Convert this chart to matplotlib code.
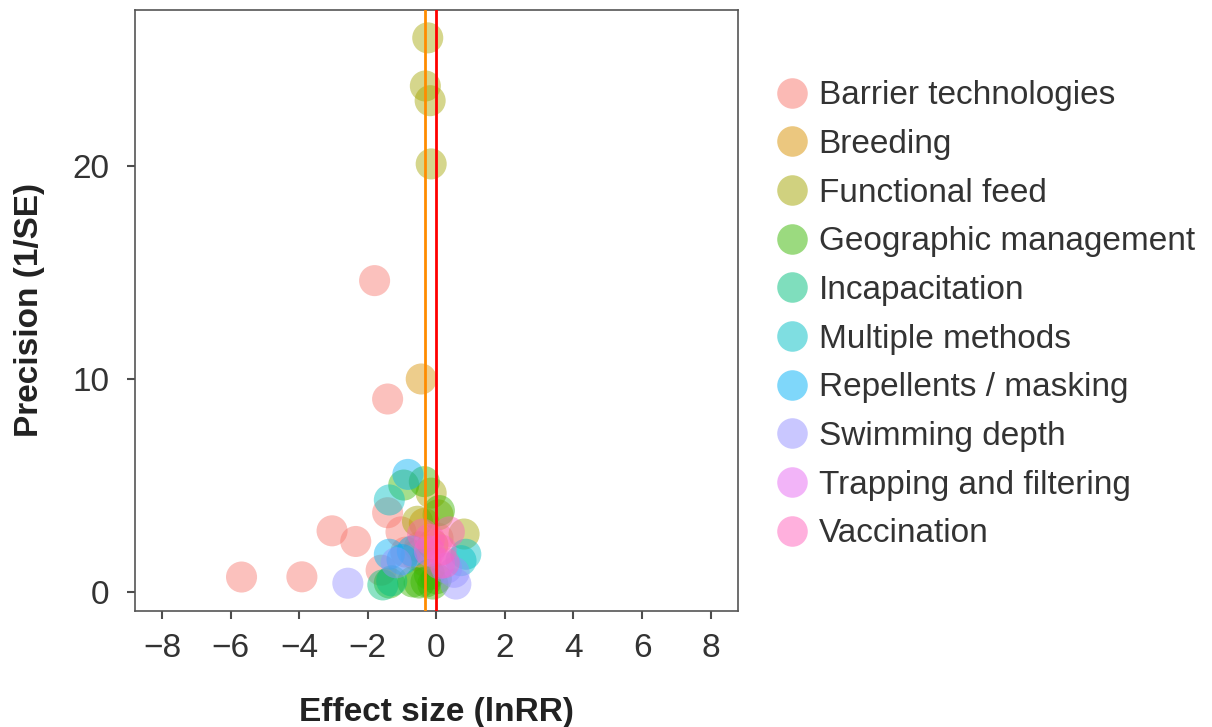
import matplotlib
matplotlib.use("Agg")
import matplotlib.pyplot as plt
from matplotlib.lines import Line2D

plt.rcParams['font.family'] = ['Liberation Sans', 'DejaVu Sans']

categories = ["Barrier technologies", "Breeding", "Functional feed",
              "Geographic management", "Incapacitation", "Multiple methods",
              "Repellents / masking", "Swimming depth", "Trapping and filtering",
              "Vaccination"]
colors = ["#F8766D", "#D89000", "#A3A500", "#39B600", "#00BF7D",
          "#00BFC4", "#00B0F6", "#9590FF", "#E76BF3", "#FF62BC"]

barrier_x = [-5.68, -3.92, -3.04, -2.35, -1.80, -1.42, -1.42, -1.03, -1.61, -0.89, -0.59, -0.49, -0.30, 0.05]
barrier_y = [0.68, 0.69, 2.85, 2.35, 14.6, 9.04, 3.70, 2.80, 1.00, 1.85, 1.70, 2.10, 1.40, 2.50]
breeding_x = [-0.44, -0.35, -0.10]
breeding_y = [9.98, 3.20, 2.20]
feed_x = [-0.25, -0.32, -0.18, -0.15, -0.15, 0.05, 0.81, -0.55]
feed_y = [26.0, 23.74, 23.05, 20.08, 4.62, 3.60, 2.70, 3.30]
geo_x = [-0.95, -0.35, 0.09, -1.37, -0.69, -0.50, -0.30, -0.10, 0.00, -0.20]
geo_y = [5.00, 5.16, 3.80, 0.40, 0.45, 0.40, 0.45, 0.35, 0.60, 0.80]
incap_x = [-1.56, -1.30]
incap_y = [0.31, 0.50]
multi_x = [-1.37, 0.86, 0.72]
multi_y = [4.30, 1.75, 1.45]
repel_x = [-0.83, -1.37, -1.00, -0.70]
repel_y = [5.50, 1.75, 1.50, 1.90]
swim_x = [-2.58, 0.57, 0.52, -1.17, 0.30]
swim_y = [0.39, 0.35, 0.90, 1.35, 1.10]
trap_x = [0.09, -0.20]
trap_y = [1.30, 1.90]
vacc_x = [0.38, -0.20, 0.14, 0.23, -0.40]
vacc_y = [2.80, 2.45, 1.95, 1.35, 2.70]

series_x = [barrier_x, breeding_x, feed_x, geo_x, incap_x, multi_x, repel_x, swim_x, trap_x, vacc_x]
series_y = [barrier_y, breeding_y, feed_y, geo_y, incap_y, multi_y, repel_y, swim_y, trap_y, vacc_y]

mean_effect = -0.32

fig = plt.figure(figsize=(12.12, 7.27), dpi=100)
ax = fig.add_axes([0.111, 0.160, 0.498, 0.826])

for xs, ys, c in zip(series_x, series_y, colors):
    ax.scatter(xs, ys, s=500, color=c, alpha=0.45, edgecolors='none', zorder=2)

ax.axvline(mean_effect, color="#FF8C00", lw=2, zorder=3)
ax.axvline(0, color="#FF0000", lw=2, zorder=3)

ax.set_xlim(-8.8, 8.8)
ax.set_ylim(-0.9, 27.3)
ax.set_xticks([-8, -6, -4, -2, 0, 2, 4, 6, 8])
ax.set_xticklabels(["\u22128", "\u22126", "\u22124", "\u22122", "0", "2", "4", "6", "8"])
ax.set_yticks([0, 10, 20])
ax.tick_params(labelsize=24, colors="#4D4D4D", length=6, width=1.5, labelcolor="#333333")
ax.tick_params(axis='x', pad=10)
ax.tick_params(axis='y', pad=12)
for sp in ax.spines.values():
    sp.set_color("#555555")
    sp.set_linewidth(1.2)

ax.set_xlabel("Effect size (lnRR)", fontsize=24, fontweight='bold', color="#222222", labelpad=24)
ax.set_ylabel("Precision (1/SE)", fontsize=24, fontweight='bold', color="#222222", labelpad=20)

handles = [Line2D([], [], marker='o', ls='none', markersize=22, markerfacecolor=c,
                  markeredgecolor='none', alpha=0.5) for c in colors]
leg = fig.legend(handles, categories, loc='upper left', bbox_to_anchor=(0.626, 0.908),
                 frameon=False, fontsize=24, handletextpad=0.2, labelspacing=0.53,
                 handlelength=1.2, borderaxespad=0)
for t in leg.get_texts():
    t.set_color("#333333")

fig.savefig("out.png", dpi=100)
